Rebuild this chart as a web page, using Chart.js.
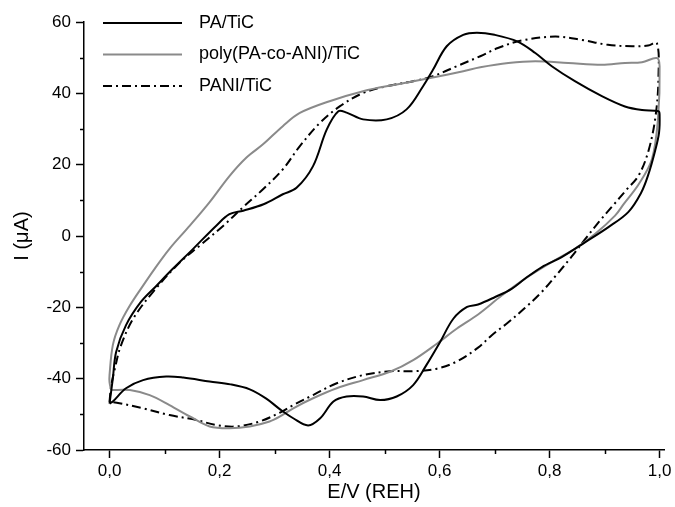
<!DOCTYPE html>
<html>
<head>
<meta charset="utf-8">
<script src="https://cdn.jsdelivr.net/npm/chart.js@4.4.1/dist/chart.umd.min.js"></script>
<style>
  html, body { margin: 0; padding: 0; background: #fff; }
</style>
</head>
<body>
<canvas id="cv" width="675" height="507"></canvas>
<script>
// PA/TiC (black solid)
var paE = [0, 0.006, 0.012, 0.03, 0.057, 0.085, 0.115, 0.152, 0.194, 0.218, 0.243, 0.28, 0.315, 0.34, 0.37, 0.395, 0.416, 0.431, 0.461, 0.504, 0.54, 0.57, 0.588, 0.613, 0.643, 0.668, 0.7, 0.742, 0.774, 0.804, 0.846, 0.895, 0.937, 0.968, 0.998,
  1.0, 0.999, 0.992, 0.979, 0.966, 0.943, 0.907, 0.865, 0.822, 0.786, 0.755, 0.731, 0.701, 0.67, 0.65, 0.625, 0.601, 0.576, 0.552, 0.522, 0.492, 0.461, 0.431, 0.407, 0.383, 0.361, 0.334, 0.31, 0.285, 0.255, 0.22, 0.182, 0.134, 0.103, 0.061, 0.03, 0.006, 0];
var paI = [-47, -40, -32.5, -25, -18.5, -14, -9.2, -3.6, 2.9, 6.1, 7.1, 8.9, 11.7, 13.5, 19.6, 29.9, 35, 34.6, 32.7, 32.7, 35.5, 42, 46.6, 53.2, 56.4, 57, 56.4, 54.5, 51.3, 47.6, 43.4, 39.2, 36.3, 35.3, 35,
  34, 29, 24, 17, 12, 6.7, 2.5, -1.7, -5.9, -8.7, -12, -14.8, -17.1, -19.2, -19.9, -23.2, -29.7, -36.2, -41.8, -45, -46, -45, -45, -46.4, -51.1, -53.1, -51.1, -48.6, -45.6, -43, -41.6, -40.8, -39.7, -39.4, -40.4, -42.7, -46.4, -47];

// poly(PA-co-ANI)/TiC (gray solid)
var copE = [0.003, 0, 0, 0.006, 0.018, 0.037, 0.061, 0.082, 0.109, 0.146, 0.182, 0.218, 0.249, 0.279, 0.315, 0.346, 0.4, 0.461, 0.522, 0.583, 0.643, 0.674, 0.725, 0.774, 0.834, 0.895, 0.937, 0.968, 0.995,
  1.0, 0.997, 0.986, 0.962, 0.935, 0.919, 0.883, 0.846, 0.804, 0.755, 0.713, 0.67, 0.631, 0.595, 0.552, 0.511, 0.461, 0.413, 0.37, 0.334, 0.31, 0.291, 0.255, 0.218, 0.182, 0.146, 0.109, 0.073, 0.037, 0.003];
var copI = [-43.2, -41, -39, -30.6, -25, -19.5, -13.9, -9.2, -3.6, 2.9, 9.5, 16.8, 22, 25.7, 30.8, 34.5, 37.8, 40.6, 42.5, 44.3, 46.2, 47.3, 48.5, 49, 48.5, 48, 48.5, 48.7, 49.9,
  47.6, 32.7, 21.5, 14.5, 9, 5.7, 0.6, -3.6, -7.3, -12, -16.7, -22, -26, -30.2, -34.8, -38, -40.4, -42.7, -45.5, -48.3, -50.6, -52, -53.4, -53.9, -53.4, -50.6, -47.4, -44.6, -43.2, -43.2];

// PANI/TiC (dash-dot)
var paniE = [0, 0.003, 0.01, 0.02, 0.043, 0.08, 0.128, 0.164, 0.207, 0.243, 0.279, 0.315, 0.346, 0.383, 0.419, 0.461, 0.504, 0.552, 0.588, 0.631, 0.674, 0.706, 0.749, 0.81, 0.858, 0.906, 0.95, 0.979, 0.995,
  0.998, 0.993, 0.98, 0.962, 0.94, 0.915, 0.89, 0.865, 0.84, 0.812, 0.785, 0.755, 0.725, 0.695, 0.67, 0.631, 0.595, 0.552, 0.511, 0.461, 0.413, 0.37, 0.334, 0.31, 0.273, 0.231, 0.194, 0.158, 0.109, 0.061, 0.018, 0];
var paniI = [-46.5, -42, -37, -31, -23.2, -15.5, -7.4, -2.7, 2.9, 8.1, 13.1, 18.7, 25.2, 31.8, 36.4, 40.1, 42, 43.4, 44.8, 47.6, 50.4, 52.7, 54.8, 55.9, 55, 53.6, 53.2, 53.4, 54.1,
  45, 34, 24, 17, 13, 8.5, 4, -0.8, -5.8, -11, -15.8, -20.2, -24.2, -27.8, -31.3, -35.2, -37.2, -37.9, -37.9, -39, -41.3, -44.6, -47.4, -49.5, -52, -53.4, -53, -51.6, -50.2, -48.3, -46.9, -46.5];

var xMajor = [0, 0.2, 0.4, 0.6, 0.8, 1.0];
var xMinor = [0.1, 0.3, 0.5, 0.7, 0.9];
var yMajor = [-60, -40, -20, 0, 20, 40, 60];
var yMinor = [-50, -30, -10, 10, 30, 50];

function pts(xs, ys) {
  return xs.map(function (x, i) { return { x: x, y: ys[i] }; });
}

var FONT = '"Liberation Sans", Arial, sans-serif';

var extras = {
  id: 'extras',
  afterDraw: function (chart) {
    var ctx = chart.ctx, xs = chart.scales.x, ys = chart.scales.y, area = chart.chartArea;
    ctx.save();
    ctx.strokeStyle = '#000';
    ctx.lineWidth = 1.5;
    xMinor.forEach(function (v) {
      var px = Math.round(xs.getPixelForValue(v)) + 0.5;
      ctx.beginPath(); ctx.moveTo(px, area.bottom); ctx.lineTo(px, area.bottom + 4); ctx.stroke();
    });
    yMinor.forEach(function (v) {
      var py = Math.round(ys.getPixelForValue(v)) + 0.5;
      ctx.beginPath(); ctx.moveTo(area.left, py); ctx.lineTo(area.left - 4, py); ctx.stroke();
    });
    // legend
    chart.data.datasets.forEach(function (ds, i) {
      var y = 23 + i * 31.5;
      ctx.strokeStyle = ds.borderColor;
      ctx.lineWidth = ds.borderWidth;
      ctx.setLineDash(ds.borderDash || []);
      ctx.beginPath(); ctx.moveTo(103, y); ctx.lineTo(182, y); ctx.stroke();
      ctx.setLineDash([]);
      ctx.fillStyle = '#000';
      ctx.font = '18px ' + FONT;
      ctx.textBaseline = 'middle';
      ctx.fillText(ds.label, 199, y);
    });
    ctx.restore();
  }
};

new Chart(document.getElementById('cv').getContext('2d'), {
  type: 'scatter',
  data: {
    datasets: [{
      label: 'PA/TiC',
      data: pts(paE, paI),
      showLine: true,
      borderColor: '#000000',
      borderWidth: 2,
      pointRadius: 0,
      tension: 0.35
    }, {
      label: 'poly(PA-co-ANI)/TiC',
      data: pts(copE, copI),
      showLine: true,
      borderColor: '#8a8a8a',
      borderWidth: 2,
      pointRadius: 0,
      tension: 0.35
    }, {
      label: 'PANI/TiC',
      data: pts(paniE, paniI),
      showLine: true,
      borderColor: '#000000',
      borderWidth: 2,
      borderDash: [9, 4, 2, 4],
      pointRadius: 0,
      tension: 0.35
    }]
  },
  options: {
    responsive: false,
    animation: false,
    devicePixelRatio: 1,
    layout: { padding: { top: 22, right: 11, left: 0, bottom: 0 } },
    plugins: {
      legend: { display: false },
      tooltip: { enabled: false }
    },
    scales: {
      x: {
        type: 'linear',
        min: -0.0464,
        max: 1.008,
        afterBuildTicks: function (scale) {
          scale.ticks = xMajor.map(function (v) { return { value: v }; });
        },
        afterFit: function (scale) { scale.height = 57; },
        border: { display: true, color: '#000', width: 1.5 },
        grid: { drawOnChartArea: false, drawTicks: true, tickLength: 8, tickColor: '#000', tickWidth: 1.5 },
        ticks: {
          color: '#000',
          padding: 3,
          maxRotation: 0,
          font: { family: FONT, size: 17 },
          callback: function (v) { return v.toFixed(1).replace('.', ','); }
        },
        title: {
          display: true,
          text: 'E/V (REH)',
          color: '#000',
          font: { family: FONT, size: 20, lineHeight: 1 },
          padding: { top: 0, bottom: 5 }
        }
      },
      y: {
        type: 'linear',
        min: -60,
        max: 60,
        afterBuildTicks: function (scale) {
          scale.ticks = yMajor.map(function (v) { return { value: v }; });
        },
        afterFit: function (scale) { scale.width = 84; },
        border: { display: true, color: '#000', width: 1.5 },
        grid: { drawOnChartArea: false, drawTicks: true, tickLength: 8, tickColor: '#000', tickWidth: 1.5 },
        ticks: {
          color: '#000',
          padding: 5,
          font: { family: FONT, size: 17 },
          callback: function (v) { return String(v); }
        },
        title: {
          display: true,
          text: 'I (μA)',
          color: '#000',
          font: { family: FONT, size: 20, lineHeight: 1 },
          padding: { top: 12, bottom: 0 }
        }
      }
    }
  },
  plugins: [extras]
});
</script>
</body>
</html>
